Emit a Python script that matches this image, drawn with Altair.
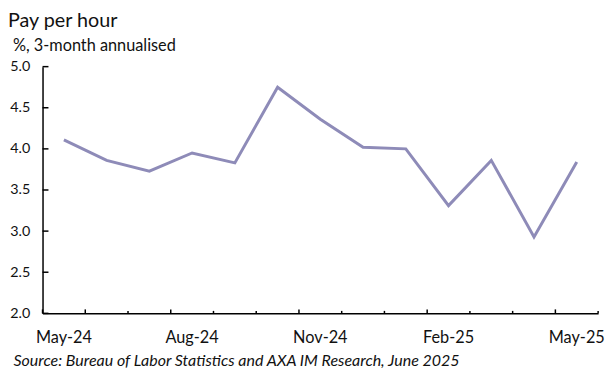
import altair as alt
import pandas as pd

months = ["May-24", "Jun-24", "Jul-24", "Aug-24", "Sep-24", "Oct-24", "Nov-24",
          "Dec-24", "Jan-25", "Feb-25", "Mar-25", "Apr-25", "May-25"]
pay = [4.11, 3.86, 3.73, 3.95, 3.83, 4.75, 4.36, 4.02, 4.00, 3.31, 3.86, 2.93, 3.84]
x_labels = ["May-24", "Aug-24", "Nov-24", "Feb-25", "May-25"]
y_ticks = [2.0, 2.5, 3.0, 3.5, 4.0, 4.5, 5.0]
title = ["Pay per hour"]
subtitle = ["%, 3-month annualised"]

FONT = "Lato"
INK = "#111111"
W, H = 563, 250

df = pd.DataFrame({"month": months, "pay": pay})
df_ticks = pd.DataFrame({"month": months, "idx": list(range(len(months)))})
df_y = pd.DataFrame({"v": y_ticks})
df_title = pd.DataFrame({"t": title})
df_sub = pd.DataFrame({"t": subtitle})

xscale = alt.Scale(type="band", domain=months, paddingInner=0, paddingOuter=0)
yscale = alt.Scale(domain=[2, 5], nice=False, zero=False)

line = alt.Chart(df).mark_line(color="#8e8bb8", strokeWidth=3).encode(
    x=alt.X("month:N", scale=xscale, bandPosition=0.5, sort=None,
            axis=alt.Axis(values=x_labels, ticks=False, tickSize=0, domain=True,
                          domainColor="#000", domainWidth=1.5, labelAngle=0,
                          labelFont=FONT, labelFontSize=16.5, labelColor=INK,
                          labelBaseline="alphabetic", labelPadding=30,
                          title="Source: Bureau of Labor Statistics and AXA IM Research, June 2025",
                          titleFont=FONT, titleFontSize=16.2, titleFontStyle="italic",
                          titleFontWeight="normal", titleColor=INK, titleAlign="left",
                          titleBaseline="alphabetic", titleX=-30, titleY=53,
                          grid=False)),
    y=alt.Y("pay:Q", scale=yscale,
            axis=alt.Axis(values=y_ticks, format=".1f", ticks=False, tickSize=0,
                          domain=True, domainColor="#000", domainWidth=1.5,
                          labelFont=FONT, labelFontSize=14.5, labelColor=INK,
                          labelPadding=13, title=None, grid=False)),
)

tick_base = alt.Chart(df_ticks)
major = tick_base.transform_filter("datum.idx % 3 == 0 || datum.idx == 1").mark_rule(
    color="#000", strokeWidth=1.5).encode(
    x=alt.X("month:N", scale=xscale, bandPosition=0, axis=None),
    y=alt.value(H), y2=alt.value(H - 4))
minor = tick_base.transform_filter("datum.idx % 3 != 0 && datum.idx != 1").mark_rule(
    color="#000", strokeWidth=1.5).encode(
    x=alt.X("month:N", scale=xscale, bandPosition=0, axis=None),
    y=alt.value(H), y2=alt.value(H - 2.5))
last = tick_base.transform_filter(f"datum.idx == {len(months) - 1}").mark_rule(
    color="#000", strokeWidth=1.5).encode(
    x=alt.X("month:N", scale=xscale, bandPosition=1, axis=None),
    y=alt.value(H), y2=alt.value(H - 2.5))

yt = alt.Chart(df_y).mark_rule(color="#000", strokeWidth=1.5).encode(
    y=alt.Y("v:Q", scale=yscale, axis=None),
    x=alt.value(0), x2=alt.value(6))

ttl = alt.Chart(df_title).mark_text(
    align="left", baseline="alphabetic", font=FONT, fontSize=20, color=INK
).encode(text="t:N", x=alt.value(-35), y=alt.value(-40))

sub = alt.Chart(df_sub).mark_text(
    align="left", baseline="alphabetic", font=FONT, fontSize=16.5, color=INK
).encode(text="t:N", x=alt.value(-30), y=alt.value(-16))

chart = alt.layer(line, major, minor, last, yt, ttl, sub).resolve_axis(
    x="independent", y="independent"
).properties(
    width=W, height=H,
    autosize=alt.AutoSizeParams(type="none"),
    padding={"left": 35, "top": 57, "right": 9, "bottom": 56},
).configure(background="white", view=alt.ViewConfig(stroke=None))

chart.save("out.html", embed_options={"renderer": "svg", "actions": False})
